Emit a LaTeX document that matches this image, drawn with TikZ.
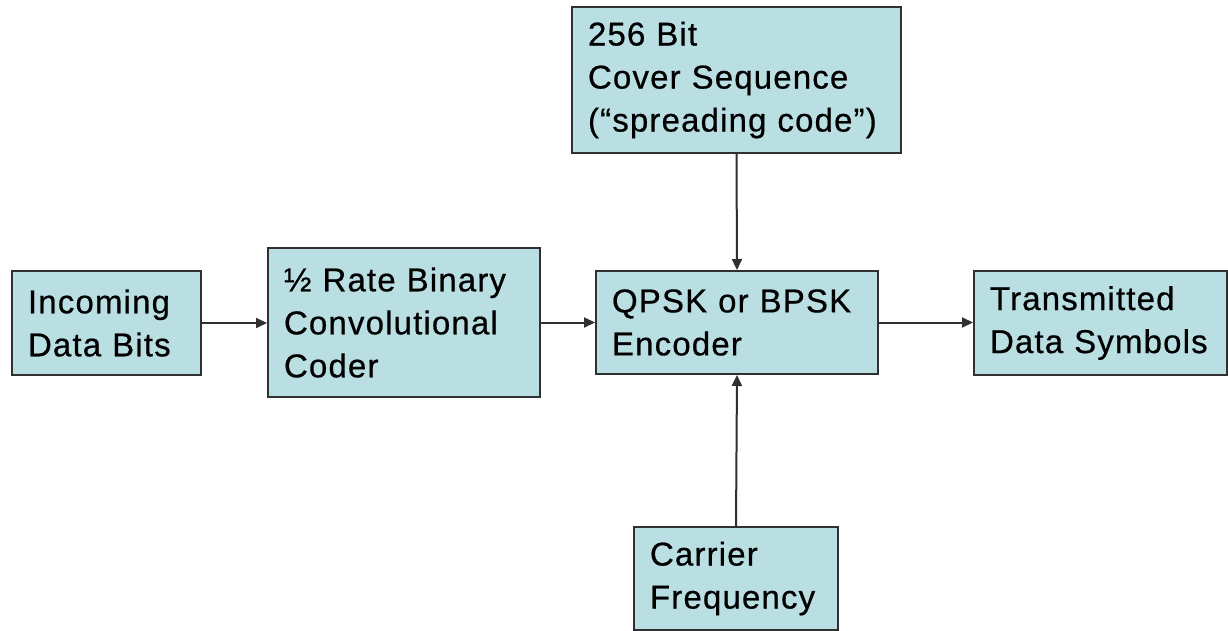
\documentclass[tikz,border=0pt]{standalone}
\usepackage{fontspec}
\setmainfont{Liberation Sans}[LetterSpace=3.5, FakeBold=0.6]
\usetikzlibrary{arrows.meta}
\definecolor{boxfill}{HTML}{BADFE3}
\definecolor{boxline}{HTML}{303030}
\tikzset{
  block/.style={draw=boxline, line width=2pt, fill=boxfill, rectangle,
    inner xsep=16pt, inner ysep=0pt, align=left,
    font=\fontsize{33}{43}\selectfont},
  link/.style={draw=boxline, line width=2pt,
    -{Triangle[length=11pt,width=10pt]}}
}
\newcommand{\blockat}[6]{% name, x, y, width, height, text
  \node[block, text width=#4pt-32pt, minimum width=#4pt, minimum height=#5pt]
    (#1) at (#2,#3) {#6};}
\begin{document}
\begin{tikzpicture}[x=1pt,y=-1pt]
\useasboundingbox (0,0) rectangle (1228,631);
\blockat{inc}{106.5}{323}{189}{104}{Incoming\\Data Bits}
\blockat{rate}{404}{322.5}{272}{149}{½ Rate Binary\\Convolutional\\Coder}
\blockat{enc}{737}{322.5}{282}{103}{QPSK or BPSK\\Encoder}
\blockat{cov}{736.5}{80}{329}{146}{256 Bit\\Cover Sequence\\(“spreading code”)}
\blockat{car}{736}{578.5}{204}{103}{Carrier\\Frequency}
\blockat{tx}{1100.5}{323}{253}{104}{Transmitted\\Data Symbols}
\draw[link] (inc.east) -- (rate.west |- inc.east);
\draw[link] (rate.east |- enc.west) -- (enc.west);
\draw[link] (enc.east) -- (tx.west |- enc.east);
\draw[link] (cov.south) -- (enc.north);
\draw[link] (car.north) -- (enc.south);
\end{tikzpicture}
\end{document}
